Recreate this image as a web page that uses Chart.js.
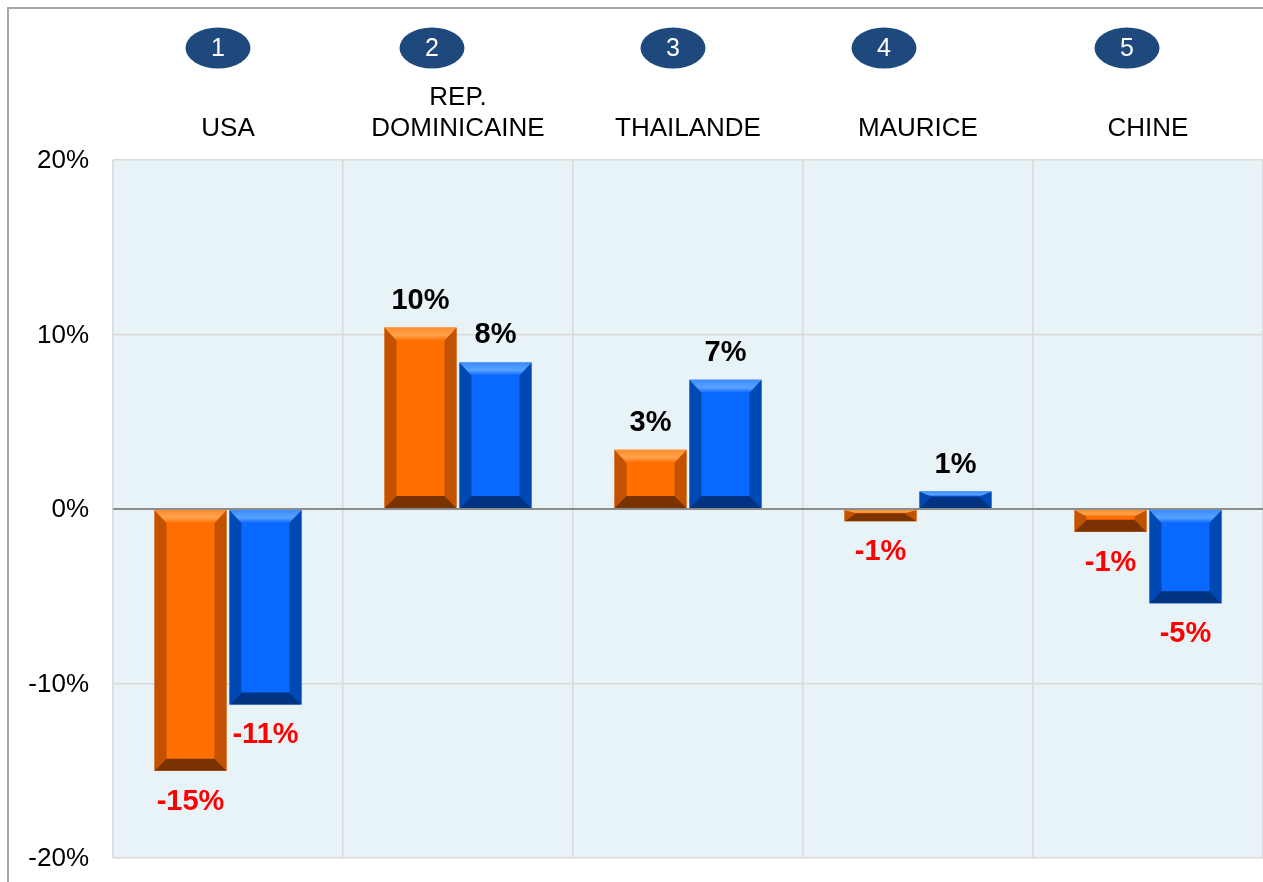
<!DOCTYPE html>
<html>
<head>
<meta charset="utf-8">
<script src="https://cdn.jsdelivr.net/npm/chart.js@4.4.1/dist/chart.umd.min.js"></script>
<style>
html,body{margin:0;padding:0;background:#fff;}
canvas{display:block;}
</style>
</head>
<body>
<canvas id="c" width="1263" height="882"></canvas>
<script>
// ---- data ----
const categories = [["USA"], ["REP.", "DOMINICAINE"], ["THAILANDE"], ["MAURICE"], ["CHINE"]];
const ranks = ["1", "2", "3", "4", "5"];
const seriesOrange = [-15.0, 10.4, 3.4, -0.7, -1.3];
const seriesBlue = [-11.2, 8.4, 7.4, 1.0, -5.4];
const yTicks = [-20, -10, 0, 10, 20];

const FONT = '"Liberation Sans", Arial, sans-serif';

const palette = {
  orange: {face: '#FF6E00', side: '#C25200', top: '#FF8E2E', bottom: '#7A3200', hi: '#FFA24D'},
  blue:   {face: '#0868FF', side: '#0049B5', top: '#3A8CFF', bottom: '#003381', hi: '#5AA2FF'}
};

const plotBg = {
  id: 'plotBg',
  beforeDraw(chart) {
    const {ctx, chartArea: a} = chart;
    ctx.save();
    ctx.fillStyle = '#E8F3F8';
    ctx.fillRect(a.left, a.top, a.right - a.left, a.bottom - a.top);
    ctx.restore();
  }
};

const yLabels = {
  id: 'yLabels',
  afterDraw(chart) {
    const ctx = chart.ctx;
    const ys = chart.scales.y;
    ctx.save();
    ctx.font = '26px ' + FONT;
    ctx.fillStyle = '#000000';
    ctx.textAlign = 'right';
    ctx.textBaseline = 'middle';
    yTicks.forEach(v => {
      ctx.fillText(v + '%', ys.right - 24, ys.getPixelForValue(v) + 1);
    });
    ctx.restore();
  }
};

const frame = {
  id: 'frame',
  afterDraw(chart) {
    const ctx = chart.ctx;
    ctx.save();
    ctx.strokeStyle = '#A6A6A6';
    ctx.lineWidth = 2;
    ctx.beginPath();
    ctx.moveTo(8, chart.height);
    ctx.lineTo(8, 8);
    ctx.lineTo(chart.width, 8);
    ctx.stroke();
    ctx.restore();
  }
};

const bevel = {
  id: 'bevel',
  afterDatasetsDraw(chart) {
    const ctx = chart.ctx;
    chart.data.datasets.forEach((ds, di) => {
      const pal = ds.pal;
      const meta = chart.getDatasetMeta(di);
      meta.data.forEach(el => {
        const p = el.getProps(['x', 'y', 'base', 'width'], true);
        const l = p.x - p.width / 2, r = p.x + p.width / 2;
        const t = Math.min(p.y, p.base), b = Math.max(p.y, p.base);
        const h = b - t;
        const bv = Math.min(12, p.width / 2);
        const bt = Math.min(13, h * 0.3);
        const bb = Math.min(12, h * 0.7);
        ctx.save();
        ctx.fillStyle = pal.side;
        ctx.beginPath();
        ctx.moveTo(l, t); ctx.lineTo(l + bv, t + bt); ctx.lineTo(l + bv, b - bb); ctx.lineTo(l, b); ctx.closePath(); ctx.fill();
        ctx.beginPath();
        ctx.moveTo(r, t); ctx.lineTo(r - bv, t + bt); ctx.lineTo(r - bv, b - bb); ctx.lineTo(r, b); ctx.closePath(); ctx.fill();
        const g = ctx.createLinearGradient(0, t, 0, t + bt);
        g.addColorStop(0, pal.top);
        g.addColorStop(0.6, pal.hi);
        g.addColorStop(1, pal.face);
        ctx.fillStyle = g;
        ctx.beginPath();
        ctx.moveTo(l, t); ctx.lineTo(r, t); ctx.lineTo(r - bv, t + bt); ctx.lineTo(l + bv, t + bt); ctx.closePath(); ctx.fill();
        ctx.fillStyle = pal.bottom;
        ctx.beginPath();
        ctx.moveTo(l, b); ctx.lineTo(r, b); ctx.lineTo(r - bv, b - bb); ctx.lineTo(l + bv, b - bb); ctx.closePath(); ctx.fill();
        ctx.restore();
      });
    });
  }
};

const valueLabels = {
  id: 'valueLabels',
  afterDatasetsDraw(chart) {
    const ctx = chart.ctx;
    ctx.save();
    ctx.font = 'bold 29px ' + FONT;
    ctx.textAlign = 'center';
    ctx.textBaseline = 'middle';
    chart.data.datasets.forEach((ds, di) => {
      const meta = chart.getDatasetMeta(di);
      meta.data.forEach((el, i) => {
        const v = ds.data[i];
        const p = el.getProps(['x', 'y', 'base'], true);
        const txt = Math.round(v) + '%';
        if (v >= 0) {
          ctx.fillStyle = '#000000';
          ctx.fillText(txt, p.x, p.y - 27);
        } else {
          ctx.fillStyle = '#FF0000';
          ctx.fillText(txt, p.x, p.y + 31);
        }
      });
    });
    ctx.restore();
  }
};

const header = {
  id: 'header',
  afterDraw(chart) {
    const ctx = chart.ctx;
    const xs = chart.scales.x;
    const badgeShift = [-10, -26, -15, -34, -21];
    ctx.save();
    categories.forEach((lines, i) => {
      const cx = xs.getPixelForValue(i);
      const bx = cx + badgeShift[i];
      ctx.fillStyle = '#1F497D';
      ctx.beginPath();
      ctx.ellipse(bx, 48, 32.5, 20.5, 0, 0, Math.PI * 2);
      ctx.fill();
      ctx.fillStyle = '#FFFFFF';
      ctx.font = '25px ' + FONT;
      ctx.textAlign = 'center';
      ctx.textBaseline = 'middle';
      ctx.fillText(ranks[i], bx, 49);
      ctx.fillStyle = '#000000';
      ctx.font = '26px ' + FONT;
      const n = lines.length;
      lines.forEach((s, k) => {
        ctx.fillText(s, cx, 129 - (n - 1 - k) * 31);
      });
    });
    ctx.restore();
  }
};

new Chart(document.getElementById('c'), {
  type: 'bar',
  data: {
    labels: categories.map(c => c.join(' ')),
    datasets: [
      {data: seriesOrange, backgroundColor: palette.orange.face, pal: palette.orange,
       categoryPercentage: 0.652, barPercentage: 0.96},
      {data: seriesBlue, backgroundColor: palette.blue.face, pal: palette.blue,
       categoryPercentage: 0.652, barPercentage: 0.96}
    ]
  },
  options: {
    responsive: false,
    devicePixelRatio: 1,
    animation: false,
    layout: {padding: {top: 160, bottom: 24, left: 0, right: 0}},
    plugins: {legend: {display: false}, tooltip: {enabled: false}, title: {display: false}},
    scales: {
      x: {
        grid: {color: '#D9D9D9', lineWidth: 1.5, offset: true, drawTicks: false},
        border: {display: false},
        ticks: {display: false},
        afterFit(s) { s.height = 0; }
      },
      y: {
        min: yTicks[0], max: yTicks[yTicks.length - 1],
        afterBuildTicks(s) { s.ticks = yTicks.map(v => ({value: v})); },
        ticks: {display: false},
        grid: {
          drawTicks: false,
          color: c => c.tick && c.tick.value === 0 ? '#8C8C8C' : '#D9D9D9',
          lineWidth: c => c.tick && c.tick.value === 0 ? 2 : 1.5
        },
        border: {display: false},
        afterFit(s) { s.width = 113; }
      }
    }
  },
  plugins: [plotBg, bevel, valueLabels, header, yLabels, frame]
});
</script>
</body>
</html>
